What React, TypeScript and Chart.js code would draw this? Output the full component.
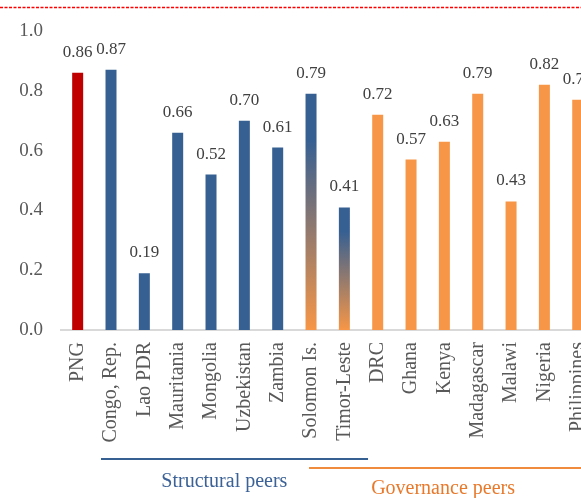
import React, { useEffect, useRef } from "react";
import { Chart, registerables } from "chart.js";

Chart.register(...registerables);

const categories = [
  "PNG", "Congo, Rep.", "Lao PDR", "Mauritania", "Mongolia", "Uzbekistan", "Zambia",
  "Solomon Is.", "Timor-Leste", "DRC", "Ghana", "Kenya", "Madagascar", "Malawi", "Nigeria", "Philippines",
];
const values = [0.86, 0.87, 0.19, 0.66, 0.52, 0.70, 0.61, 0.79, 0.41, 0.72, 0.57, 0.63, 0.79, 0.43, 0.82, 0.77];
// group of each category: png, structural, both (structural + governance), governance
const groups = [
  "png", "structural", "structural", "structural", "structural", "structural", "structural",
  "both", "both", "governance", "governance", "governance", "governance", "governance", "governance", "governance",
];
const yTicks = [0, 0.2, 0.4, 0.6, 0.8, 1.0];
// peer bracket labels and the category span (by index) that each line covers
const peerLabels = ["Structural peers", "Governance peers"];
const peerFrom = [0.7, 6.94];
const peerTo = [8.71, 16.5];
const peerTextAt = [4.4, 10.96];

const RED = "#C00000";
const BLUE = "#376092";
const ORANGE = "#F79646";
const FONT = "'Liberation Serif', 'Times New Roman', serif";

const barColor = (ctx: any) => {
  if (ctx.type !== "data") return BLUE;
  const i = ctx.dataIndex;
  const g = groups[i];
  if (g === "png") return RED;
  if (g === "structural") return BLUE;
  if (g === "governance") return ORANGE;
  const chart = ctx.chart;
  const y = chart.scales && chart.scales.y;
  if (!y || !chart.chartArea) return ORANGE;
  const top = y.getPixelForValue(values[i]);
  const bottom = y.getPixelForValue(0);
  const grad = chart.ctx.createLinearGradient(0, top, 0, bottom);
  grad.addColorStop(0, BLUE);
  grad.addColorStop(0.2, BLUE);
  grad.addColorStop(1, ORANGE);
  return grad;
};

const decorPlugin = {
  id: "decor",
  afterDatasetsDraw(chart: any) {
    const ctx = chart.ctx;
    const meta = chart.getDatasetMeta(0);
    ctx.save();
    ctx.font = `17px ${FONT}`;
    ctx.fillStyle = "#404040";
    ctx.textAlign = "center";
    ctx.textBaseline = "alphabetic";
    meta.data.forEach((bar: any, i: number) => {
      ctx.fillText(values[i].toFixed(2), bar.x, bar.y - 16);
    });
    ctx.restore();
  },
  afterDraw(chart: any) {
    const ctx = chart.ctx;
    const x = chart.scales.x;
    ctx.save();
    // dashed red line at top
    ctx.strokeStyle = "#FF0000";
    ctx.lineWidth = 1.4;
    ctx.setLineDash([3, 1.5]);
    ctx.beginPath();
    ctx.moveTo(0, 7.5);
    ctx.lineTo(chart.width, 7.5);
    ctx.stroke();
    ctx.setLineDash([]);
    // peer brackets
    const lineY = [459, 468];
    const textY = [482, 489];
    const lineColors = [BLUE, "#F08A3C"];
    const textColors = ["#3B6196", "#E8792B"];
    ctx.font = `20px ${FONT}`;
    ctx.textAlign = "center";
    ctx.textBaseline = "middle";
    for (let k = 0; k < peerLabels.length; k++) {
      ctx.strokeStyle = lineColors[k];
      ctx.lineWidth = 2;
      ctx.beginPath();
      ctx.moveTo(x.getPixelForValue(peerFrom[k]), lineY[k]);
      ctx.lineTo(x.getPixelForValue(peerTo[k]), lineY[k]);
      ctx.stroke();
      ctx.fillStyle = textColors[k];
      ctx.fillText(peerLabels[k], x.getPixelForValue(peerTextAt[k]), textY[k]);
    }
    ctx.restore();
  },
};

export default function App() {
  const ref = useRef<HTMLCanvasElement | null>(null);
  useEffect(() => {
    if (!ref.current) return;
    const chart = new Chart(ref.current, {
      type: "bar",
      data: {
        labels: categories,
        datasets: [
          {
            data: values,
            backgroundColor: barColor as any,
            categoryPercentage: 1,
            barPercentage: 0.33,
          },
        ],
      },
      options: {
        animation: false,
        responsive: false,
        devicePixelRatio: 1,
        layout: { padding: { top: 31, right: 25.6, bottom: 0, left: 0 } },
        plugins: { legend: { display: false }, tooltip: { enabled: false } },
        scales: {
          x: {
            grid: { display: false, drawTicks: false },
            border: { display: true, color: "#D9D9D9", width: 2 },
            ticks: {
              autoSkip: false,
              maxRotation: 90,
              minRotation: 90,
              padding: 12,
              color: "#595959",
              font: { family: FONT, size: 20 },
            },
            afterFit: (s: any) => {
              s.height = 168;
            },
          },
          y: {
            min: 0,
            max: 1,
            afterBuildTicks: (s: any) => {
              s.ticks = yTicks.map((v) => ({ value: v }));
            },
            grid: { display: false, drawTicks: false },
            border: { display: false },
            ticks: {
              padding: 18,
              color: "#595959",
              font: { family: FONT, size: 19 },
              callback: (v: any) => Number(v).toFixed(1),
            },
            afterFit: (s: any) => {
              s.width = 61;
            },
          },
        },
      },
      plugins: [decorPlugin],
    });
    return () => chart.destroy();
  }, []);
  return (
    <div
      style={{
        position: "fixed",
        left: 0,
        top: 0,
        width: 581,
        height: 498,
        overflow: "hidden",
        background: "#FFFFFF",
      }}
    >
      <canvas ref={ref} width={620} height={498} style={{ display: "block" }} />
    </div>
  );
}
